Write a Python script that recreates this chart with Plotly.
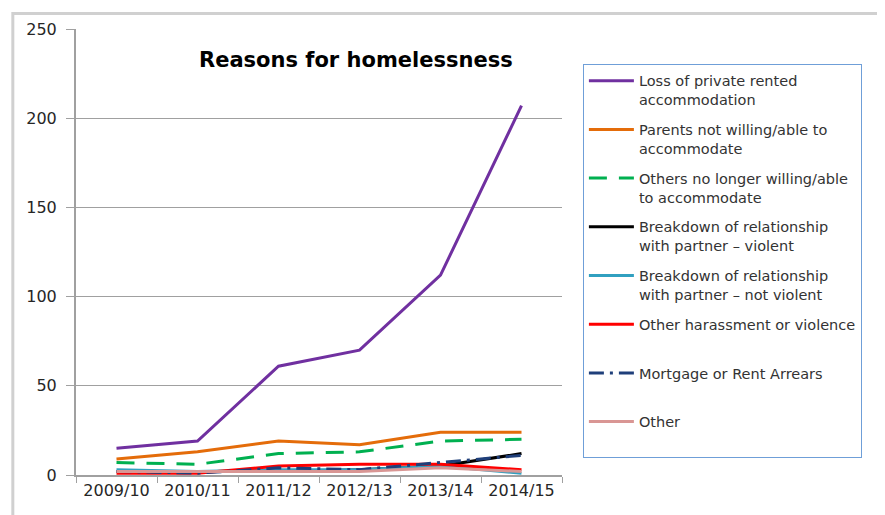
import plotly.graph_objects as go

years = ["2009/10", "2010/11", "2011/12", "2012/13", "2013/14", "2014/15"]

loss_private = [15, 19, 61, 70, 112, 207]
parents = [9, 13, 19, 17, 24, 24]
others_no_longer = [7, 6, 12, 13, 19, 20]
breakdown_violent = [2, 2, 2, 3, 5, 12]
breakdown_not_violent = [3, 2, 3, 3, 5, 1]
harassment = [1, 1, 5, 6, 6, 3]
mortgage = [2, 1, 4, 3, 7, 11]
other = [2, 2, 2, 2, 4, 2]

series = [
    ("Loss of private rented<br>accommodation", loss_private, "#7030a0", "solid"),
    ("Parents not willing/able to<br>accommodate", parents, "#e46c0a", "solid"),
    ("Others no longer willing/able<br>to accommodate", others_no_longer, "#00b050", "18px,12px"),
    ("Breakdown of relationship<br>with partner – violent", breakdown_violent, "#000000", "solid"),
    ("Breakdown of relationship<br>with partner – not violent", breakdown_not_violent, "#31a0c0", "solid"),
    ("Other harassment or violence<br> ", harassment, "#ff0000", "solid"),
    ("Mortgage or Rent Arrears<br> ", mortgage, "#1f3f7a", "longdashdot"),
    ("Other<br> ", other, "#d99694", "solid"),
]

fig = go.Figure()
for i, (name, vals, color, dash) in enumerate(series):
    fig.add_trace(go.Scatter(
        x=years, y=vals, mode="lines", name=name,
        line=dict(color=color, width=3, dash=dash),
        legendgroup=str(i), legendrank=i,
    ))

fig.update_layout(
    width=877, height=507,
    margin=dict(l=68, r=323, t=16, b=40),
    paper_bgcolor="white", plot_bgcolor="white",
    font=dict(family="DejaVu Sans, sans-serif", color="#262626", size=14),
    showlegend=True,
    legend=dict(
        x=1.043, y=0.922, xanchor="left", yanchor="top",
        bordercolor="#6f9fd8", borderwidth=1,
        font=dict(size=14.5, color="#333333", family="DejaVu Sans, sans-serif"),
        tracegroupgap=8, valign="top", itemwidth=45,
    ),
    annotations=[dict(
        text="<b>Reasons for homelessness</b>", x=0.576, y=0.931,
        xref="paper", yref="paper", showarrow=False,
        font=dict(size=21, color="#000000", family="DejaVu Sans, sans-serif"),
        xanchor="center", yanchor="middle",
    )],
    shapes=[dict(type="rect", xref="paper", yref="paper",
                 x0=-0.13, x1=1.7, y0=-0.2, y1=1.035,
                 line=dict(color="#d0d0d0", width=3))],
)

fig.update_xaxes(
    type="category", range=[-0.5, 5.5], tickson="boundaries", ticks="outside", ticklen=6,
    tickcolor="#a0a0a0", showline=True, linecolor="#a0a0a0", linewidth=2,
    showgrid=False, tickfont=dict(size=16, color="#262626"),
)
fig.update_yaxes(
    range=[0, 250], dtick=50, ticks="outside", ticklen=8, tickcolor="#a0a0a0",
    showline=True, linecolor="#a0a0a0", linewidth=2,
    showgrid=True, gridcolor="#a0a0a0", gridwidth=1, ticklabelstandoff=6,
    tickfont=dict(size=16, color="#262626"), zeroline=False,
)

fig.write_html("out.html")
